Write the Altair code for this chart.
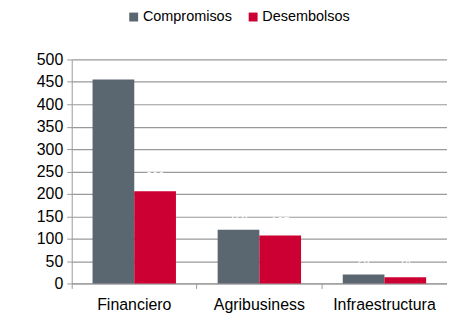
import altair as alt
import pandas as pd

categories = ["Financiero", "Agribusiness", "Infraestructura"]
series = ["Compromisos", "Desembolsos"]
compromisos = [455, 120, 20]
desembolsos = [206, 107, 14]
colors = ["#5b6770", "#cc0033"]
yticks = [0, 50, 100, 150, 200, 250, 300, 350, 400, 450, 500]

rows = []
for c, a, b in zip(categories, compromisos, desembolsos):
    rows.append({"cat": c, "serie": series[0], "v": a})
    rows.append({"cat": c, "serie": series[1], "v": b})
df = pd.DataFrame(rows)

font = "Liberation Sans"

x = alt.X("cat:N", sort=categories, title=None,
          scale=alt.Scale(paddingInner=0, paddingOuter=0),
          axis=alt.Axis(labelAngle=0, labelFontSize=16, labelColor="#000000",
                        labelFont=font, domainColor="#999999", tickColor="#999999",
                        tickSize=5, bandPosition=0, labelPadding=8, grid=False))
xo = alt.XOffset("serie:N", sort=series,
                 scale=alt.Scale(paddingInner=0, paddingOuter=0.5))
y = alt.Y("v:Q", title=None,
          scale=alt.Scale(domain=[0, 500], nice=False),
          axis=alt.Axis(values=yticks, labelFontSize=16, labelOverlap=False,
                        labelColor="#000000", labelFont=font,
                        domainColor="#999999", tickColor="#999999", tickSize=5,
                        gridColor="#999999", gridWidth=1.2, labelPadding=4))

base = alt.Chart(df).encode(x=x, xOffset=xo, y=y)

bars = base.mark_bar().encode(
    color=alt.Color("serie:N", sort=series,
                    scale=alt.Scale(domain=series, range=colors),
                    legend=alt.Legend(title=None, orient="none", direction="horizontal",
                                      legendX=55, legendY=-50, symbolType="square",
                                      symbolSize=80, symbolStrokeWidth=0,
                                      labelFontSize=14.5, labelFont=font,
                                      labelColor="#000000", columnPadding=14,
                                      symbolOffset=0, labelOffset=2)),
)

labels = base.mark_text(color="white", fontSize=11, dy=-14, font=font).encode(text="v:Q")

chart = alt.layer(bars, labels).properties(
    width=377, height=225,
    autosize=alt.AutoSizeParams(type="none"),
    padding={"left": 64, "top": 51, "right": 0, "bottom": 30},
).configure_view(stroke=None)

chart.save("out.html", embed_options={"renderer": "svg", "actions": False})
